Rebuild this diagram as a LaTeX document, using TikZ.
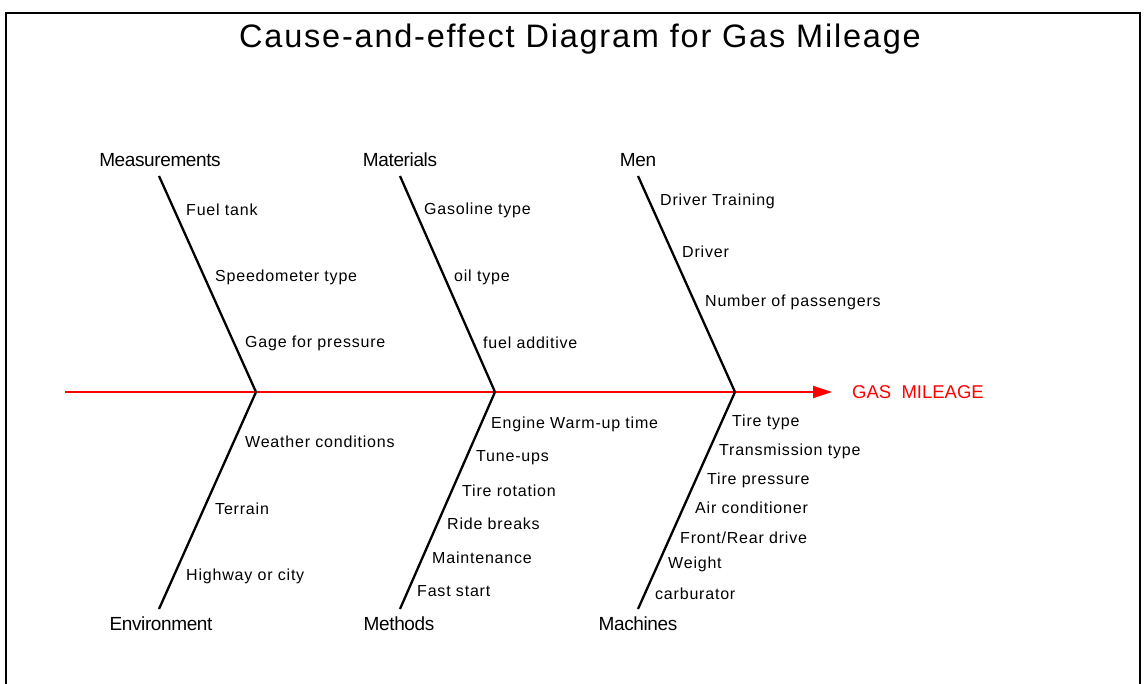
\documentclass[tikz,border=0pt]{standalone}
\usepackage{fontspec}
\setmainfont{Liberation Sans}
\newfontfamily\titlefont[LetterSpace=5.5]{Liberation Sans}
\newfontfamily\catfont[LetterSpace=-2]{Liberation Sans}
\newfontfamily\lblfont[LetterSpace=5]{Liberation Sans}
\usetikzlibrary{arrows.meta}
\definecolor{spinered}{RGB}{255,0,0}
\tikzset{
  bone/.style={line width=2.3pt, black},
  spine/.style={line width=2.2pt, spinered, -{Triangle[length=19pt,width=12pt]}},
  cat/.style={inner sep=0pt, font=\catfont\fontsize{19}{22}\selectfont},
  lbl/.style={anchor=west, inner sep=0pt, font=\lblfont\fontsize{16}{19}\selectfont},
  ttl/.style={inner sep=0pt, font=\titlefont\fontsize{32.5}{36}\selectfont},
  effect/.style={anchor=west, inner sep=0pt, text=spinered, font=\fontsize{18.5}{22}\selectfont},
}
\begin{document}
\begin{tikzpicture}[x=1pt,y=-1pt]
\useasboundingbox (0,0) rectangle (1144,684);
\draw[line width=2.2pt] (6,13) rectangle (1140,720);

\node[ttl] (title) at (580,39) {Cause-and-effect Diagram for Gas Mileage};

% spine
\coordinate (s) at (65,392);
\coordinate (j1) at (256,392);
\coordinate (j2) at (495,392);
\coordinate (j3) at (735,392);
\node[effect] (gm) at (852,392) {GAS\ \ MILEAGE};
\draw[spine] (s) -- ([xshift=-20pt]gm.west);

% top bones
\coordinate (t1) at (159,176);
\coordinate (t2) at (400,176);
\coordinate (t3) at (638,176);
\draw[bone] (t1) -- (j1);
\draw[bone] (t2) -- (j2);
\draw[bone] (t3) -- (j3);
% bottom bones
\coordinate (b1) at (159,609);
\coordinate (b2) at (400,609);
\coordinate (b3) at (638,609);
\draw[bone] (j1) -- (b1);
\draw[bone] (j2) -- (b2);
\draw[bone] (j3) -- (b3);

% category labels
\node[cat] (meas) at (160,160) {Measurements};
\node[cat] (mat) at (400,160) {Materials};
\node[cat] (men) at (638,160) {Men};
\node[cat] (env) at (161,624) {Environment};
\node[cat] (meth) at (399,624) {Methods};
\node[cat] (mach) at (638,624) {Machines};

% Measurements
\node[lbl] (m1) at (186,210) {Fuel tank};
\node[lbl] (m2) at (215,277) {Speedometer type};
\node[lbl] (m3) at (245,343) {Gage for pressure};
% Materials
\node[lbl] (a1) at (424,210) {Gasoline type};
\node[lbl] (a2) at (454,277) {oil type};
\node[lbl] (a3) at (483,343) {fuel additive};
% Men
\node[lbl] (n1) at (660,201) {Driver Training};
\node[lbl] (n2) at (682,252) {Driver};
\node[lbl] (n3) at (705,302) {Number of passengers};
% Environment
\node[lbl] (e1) at (245,442) {Weather conditions};
\node[lbl] (e2) at (215,509) {Terrain};
\node[lbl] (e3) at (186,576) {Highway or city};
% Methods
\node[lbl] (h1) at (491,424) {Engine Warm-up time};
\node[lbl] (h2) at (476,458) {Tune-ups};
\node[lbl] (h3) at (462,491) {Tire rotation};
\node[lbl] (h4) at (447,524) {Ride breaks};
\node[lbl] (h5) at (432,558) {Maintenance};
\node[lbl] (h6) at (417,591) {Fast start};
% Machines
\node[lbl] (c1) at (732,422) {Tire type};
\node[lbl] (c2) at (719,451) {Transmission type};
\node[lbl] (c3) at (707,480) {Tire pressure};
\node[lbl] (c4) at (695,508) {Air conditioner};
\node[lbl] (c5) at (680,538) {Front/Rear drive};
\node[lbl] (c6) at (668,564) {Weight};
\node[lbl] (c7) at (655,594) {carburator};
\end{tikzpicture}
\end{document}
